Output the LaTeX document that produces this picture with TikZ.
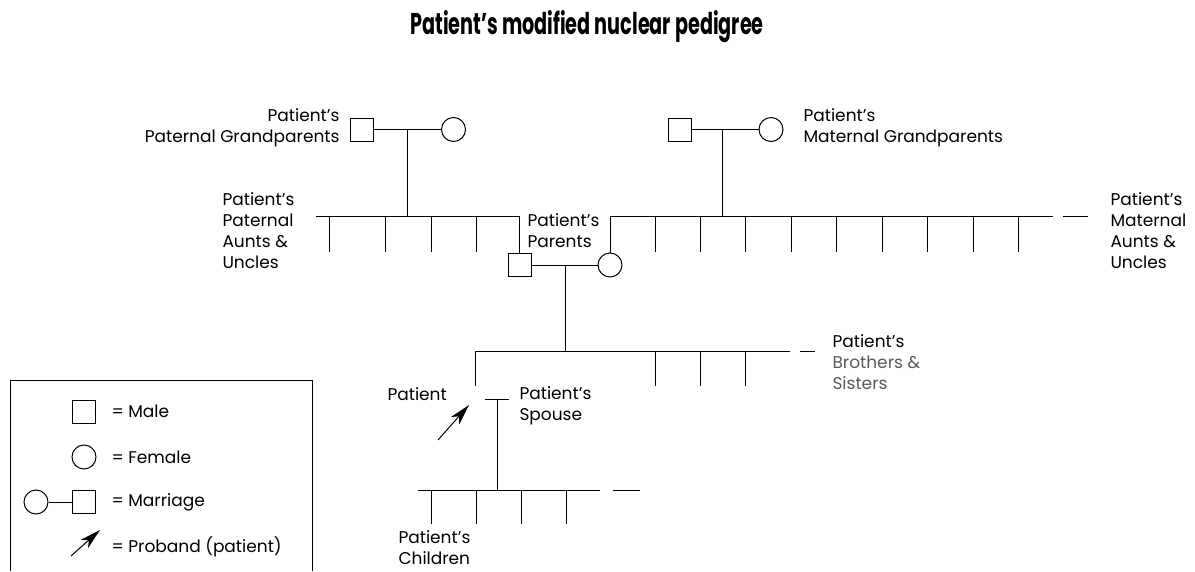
\documentclass[tikz,border=0pt]{standalone}
\usepackage{fontspec}
\setmainfont{Poppins}
\usepackage{graphicx}
\usetikzlibrary{arrows.meta,positioning}

\begin{document}
\begin{tikzpicture}[x=1pt,y=-1pt,line width=1pt,
  male/.style={rectangle,draw=black,fill=white,minimum size=23,inner sep=0},
  female/.style={circle,draw=black,fill=white,minimum size=24,inner sep=0},
  lbl/.style={inner sep=0,font=\fontsize{17}{21}\selectfont},
  proband/.style={-{Stealth[length=21pt,width=11pt,inset=6pt]}}]

\useasboundingbox (0,0) rectangle (1195,571);

\node[font=\bfseries\fontsize{30}{34}\selectfont] (title) at (587,27) {\scalebox{0.64}[1]{Patient’s modified nuclear pedigree}};

% paternal grandparents
\node[male] (pgf) at (361.5,129.5) {};
\node[female] (pgm) at (453.5,129.5) {};
\draw (pgf) -- (pgm);
\node[lbl,anchor=east,align=right] (pgplbl) at (340,128) {Patient’s\\Paternal Grandparents};
\coordinate (pmar) at (407,129.5);
\coordinate (psib) at (407,216);
\draw (pmar) -- (psib);

% maternal grandparents
\node[male] (mgf) at (679.5,129.5) {};
\node[female] (mgm) at (771,129.5) {};
\draw (mgf) -- (mgm);
\node[lbl,anchor=west,align=left] (mgplbl) at (803,128) {Patient’s\\Maternal Grandparents};
\coordinate (mmar) at (722,129.5);
\coordinate (msib) at (722,216);
\draw (mmar) -- (msib);

% parents
\node[male] (father) at (519.5,265) {};
\node[female] (mother) at (610,265) {};
\draw (father) -- (mother);
\node[lbl,anchor=west,align=left] (parlbl) at (527,231) {Patient’s\\Parents};

\coordinate (psibL) at (316,216);
\coordinate (psibR) at (519.5,216);
\draw (psibL) -- (psibR) -- (father);
\foreach \x [count=\i] in {329,385,431,476} {
  \coordinate (pa\i) at (\x,216);
  \coordinate (pa\i b) at (\x,252);
  \draw (pa\i) -- (pa\i b);
}
\node[lbl,anchor=west,align=left] (palbl) at (222,230.5) {Patient’s\\Paternal\\Aunts \&\\Uncles};

\coordinate (msibL) at (610,216);
\coordinate (msibR) at (1053,216);
\coordinate (mdashL) at (1063,216);
\coordinate (mdashR) at (1088,216);
\draw (mother) -- (msibL) -- (msibR);
\draw (mdashL) -- (mdashR);
\foreach \x [count=\i] in {655,700,745,791,836,882,927,973,1018} {
  \coordinate (ma\i) at (\x,216);
  \coordinate (ma\i b) at (\x,252);
  \draw (ma\i) -- (ma\i b);
}
\node[lbl,anchor=west,align=left] (malbl) at (1110,230.5) {Patient’s\\Maternal\\Aunts \&\\Uncles};

% patient and siblings
\coordinate (parmar) at (565,265);
\coordinate (sib) at (565,351);
\draw (parmar) -- (sib);
\coordinate (sibL) at (475,351);
\coordinate (sibR) at (790,351);
\coordinate (sdashL) at (800,351);
\coordinate (sdashR) at (815,351);
\draw (sibL) -- (sibR);
\draw (sdashL) -- (sdashR);
\coordinate (pat) at (475,386);
\draw (sibL) -- (pat);
\foreach \x [count=\i] in {655,700,745} {
  \coordinate (si\i) at (\x,351);
  \coordinate (si\i b) at (\x,386);
  \draw (si\i) -- (si\i b);
}
\node[lbl,anchor=west,align=left] (sislbl) at (832,362) {Patient’s\\\textcolor{black!65}{Brothers \&}\\\textcolor{black!65}{Sisters}};
\node[lbl,anchor=west] (patlbl) at (387,394) {Patient};
\coordinate (arrtail) at (438,440);
\coordinate (arrhead) at (469,405);
\draw[proband] (arrtail) -- (arrhead);

% spouse and children
\coordinate (spL) at (485,399);
\coordinate (spR) at (509,399);
\coordinate (spmar) at (497.5,399);
\coordinate (kids) at (497.5,490);
\draw (spL) -- (spR);
\draw (spmar) -- (kids);
\node[lbl,anchor=west,align=left] (splbl) at (519,406) {Patient’s\\Spouse};
\coordinate (kidsL) at (418,490);
\coordinate (kidsR) at (600,490);
\coordinate (kdashL) at (613,490);
\coordinate (kdashR) at (640,490);
\draw (kidsL) -- (kidsR);
\draw (kdashL) -- (kdashR);
\foreach \x [count=\i] in {431,476,521,566} {
  \coordinate (ki\i) at (\x,490);
  \coordinate (ki\i b) at (\x,524);
  \draw (ki\i) -- (ki\i b);
}
\node[lbl,anchor=west,align=left] (kidlbl) at (398,548) {Patient’s\\Children};

% key
\draw (10,571) -- (10,380) -- (312,380) -- (312,571);
\node[male] (kmale) at (83.5,411.5) {};
\node[lbl,anchor=west] (kmalelbl) at (111,411.5) {= Male};
\node[female] (kfemale) at (84,457) {};
\node[lbl,anchor=west] (kfemalelbl) at (111,457) {= Female};
\node[female] (kwife) at (36,502) {};
\node[male] (khusb) at (83.5,502) {};
\draw (kwife) -- (khusb);
\node[lbl,anchor=west] (kmarlbl) at (111,502) {= Marriage};
\coordinate (karrtail) at (71,556);
\coordinate (karrhead) at (100,530);
\draw[proband] (karrtail) -- (karrhead);
\node[lbl,anchor=west] (karrlbl) at (111,547) {= Proband (patient)};

\end{tikzpicture}
\end{document}
